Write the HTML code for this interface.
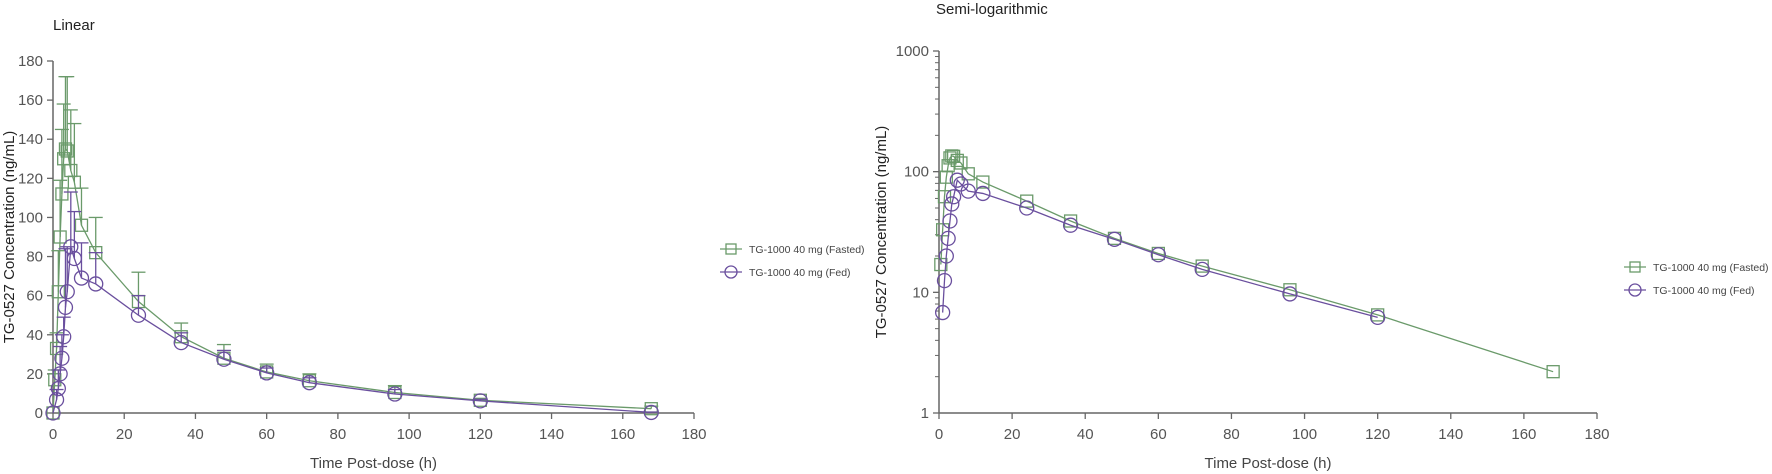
<!DOCTYPE html>
<html><head><meta charset="utf-8"><style>
html,body{margin:0;padding:0;background:#fff;}
svg{display:block;font-family:"Liberation Sans",Arial,sans-serif;}
</style></head><body>
<svg id="chart" width="1772" height="474" xmlns="http://www.w3.org/2000/svg"></svg>
<script>
const fastedTimes=[0,0.5,1,1.5,2,2.5,3,3.5,4,5,6,8,12,24,36,48,60,72,96,120,168];
const fastedMean=[0,17,33,62,90,112,130,135,134,124,118,96,82,57,39,28,21,16.5,10.5,6.5,2.2];
const fastedUpper=[0,22,41,83,119,145,158,172,172,155,148,115,100,72,46,35,25,20,14,7.5,3.5];
const fedTimes=[0,1,1.5,2,2.5,3,3.5,4,5,6,8,12,24,36,48,60,72,96,120,168];
const fedMean=[0,6.8,12.5,20,28,39,54,62,85,79,69,66,50,36,27.5,20.5,15.5,9.7,6.2,0.3];
const fedUpper=[0,12,22,34,40,49,84,85,113,103,87,82,60,41,32,23,18,12,7,0.5];
const xTicks=[0,20,40,60,80,100,120,140,160,180];
const yTicksLin=[0,20,40,60,80,100,120,140,160,180];
const yTicksLog=[1,10,100,1000];
const legendLabels=["TG-1000 40 mg (Fasted)","TG-1000 40 mg (Fed)"];

const NS="http://www.w3.org/2000/svg";
const svg=document.getElementById('chart');
const GREEN="#6a9a6a",PURPLE="#6a4f9e",AX="#666",TXT="#555";
function mk(tag,attrs,parent){const e=document.createElementNS(NS,tag);for(const k in attrs)e.setAttribute(k,attrs[k]);(parent||svg).appendChild(e);return e;}

function drawChart(cfg){
  const g=mk('g',{});
  
  
  const xs=v=>cfg.x0+(v-0)/180*(cfg.x1-cfg.x0);
  const ys=cfg.ys;
  const t=mk('text',{x:cfg.titleX,y:cfg.titleY,'font-size':15,fill:'#222'},g);t.textContent=cfg.title;
  
  
  const xa=mk('line',{x1:cfg.x0,y1:cfg.yb,x2:cfg.x1,y2:cfg.yb,stroke:AX,'stroke-width':1.5},g);
  
  
  const ya=mk('line',{x1:cfg.x0,y1:cfg.yb,x2:cfg.x0,y2:cfg.yt,stroke:AX,'stroke-width':1.5},g);
  
  
  xTicks.forEach(v=>{const x=xs(v);mk('line',{x1:x,y1:cfg.yb,x2:x,y2:cfg.yb+6,stroke:AX,'stroke-width':1.3},g);
    const l=mk('text',{x:x,y:cfg.yb+26,'font-size':15,fill:TXT,'text-anchor':'middle'},g);l.textContent=v;
    
    });
  cfg.yTicks.forEach(v=>{const y=ys(v);mk('line',{x1:cfg.x0-6,y1:y,x2:cfg.x0,y2:y,stroke:AX,'stroke-width':1.3},g);
    const l=mk('text',{x:cfg.x0-10,y:y+5,'font-size':15,fill:TXT,'text-anchor':'end'},g);l.textContent=v;
    
    });
  if(cfg.log){for(let d=1;d<1000;d*=10)for(let m=2;m<=9;m++){const y=ys(d*m);mk('line',{x1:cfg.x0-4,y1:y,x2:cfg.x0,y2:y,stroke:AX,'stroke-width':1},g);}}
  const xt=mk('text',{x:(cfg.x0+cfg.x1)/2,y:cfg.yb+55,'font-size':15,fill:'#444','text-anchor':'middle'},g);xt.textContent='Time Post-dose (h)';
  
  
  const yc=(cfg.yb+cfg.yt)/2;
  const yt=mk('text',{x:cfg.ytX,y:yc,'font-size':15,fill:'#222','text-anchor':'middle',transform:`rotate(-90 ${cfg.ytX} ${yc})`},g);yt.textContent='TG-0527 Concentration (ng/mL)';
  
  
  const series=[{t:fastedTimes,m:fastedMean,u:fastedUpper,c:GREEN,sq:true,n:'fasted'},{t:fedTimes,m:fedMean,u:fedUpper,c:PURPLE,sq:false,n:'fed'}];
  series.forEach(s=>{
    const sg=mk('g',{},g);
    
    
    const pts=[];s.t.forEach((tv,i)=>{if(cfg.log&&s.m[i]<=0)return;if(cfg.log&&s.n==='fed'&&tv===168)return;pts.push([xs(tv),ys(s.m[i]),i]);});
    const ln=mk('polyline',{points:pts.map(p=>p[0]+','+p[1]).join(' '),fill:'none',stroke:s.c,'stroke-width':1.3},sg);
    
    
    if(!cfg.log){pts.forEach(p=>{const i=p[2];if(s.u[i]>s.m[i]){const yu=ys(s.u[i]);
      mk('line',{x1:p[0],y1:p[1],x2:p[0],y2:yu,stroke:s.c,'stroke-width':1.3},sg);
      mk('line',{x1:p[0]-7,y1:yu,x2:p[0]+7,y2:yu,stroke:s.c,'stroke-width':1.3},sg);}});}
    pts.forEach(p=>{let e;
      if(s.sq){e=mk('rect',{x:p[0]-6,y:p[1]-6,width:12,height:12,fill:'none',stroke:s.c,'stroke-width':1.3},sg);}
      else{e=mk('circle',{cx:p[0],cy:p[1],r:7,fill:'none',stroke:s.c,'stroke-width':1.3},sg);}
      
      });
  });
  legendLabels.forEach((lab,i)=>{const y=cfg.legY+i*23;const c=i?PURPLE:GREEN;const lg=mk('g',{},g);
    
    
    mk('line',{x1:cfg.legX-11,y1:y,x2:cfg.legX+11,y2:y,stroke:c,'stroke-width':1.3},lg);
    if(i)mk('circle',{cx:cfg.legX,cy:y,r:6,fill:'none',stroke:c,'stroke-width':1.3},lg);
    else mk('rect',{x:cfg.legX-5,y:y-5,width:10,height:10,fill:'none',stroke:c,'stroke-width':1.3},lg);
    const tx=mk('text',{x:cfg.legX+18,y:y+4,'font-size':10.5,fill:'#444'},lg);tx.textContent=lab;});
}
const linY=v=>413-v/180*(413-61);
drawChart({name:'linear-chart',title:'Linear',titleX:53,titleY:30,x0:53,x1:694,yb:413,yt:61,ys:linY,yTicks:yTicksLin,log:false,ytX:14,legX:731,legY:249});
const logY=v=>413-Math.log10(v)*(413-51)/3;
drawChart({name:'semilog-chart',title:'Semi-logarithmic',titleX:936,titleY:14,x0:939,x1:1597,yb:413,yt:51,ys:logY,yTicks:yTicksLog,log:true,ytX:886,legX:1635,legY:267});
</script>
</body></html>
